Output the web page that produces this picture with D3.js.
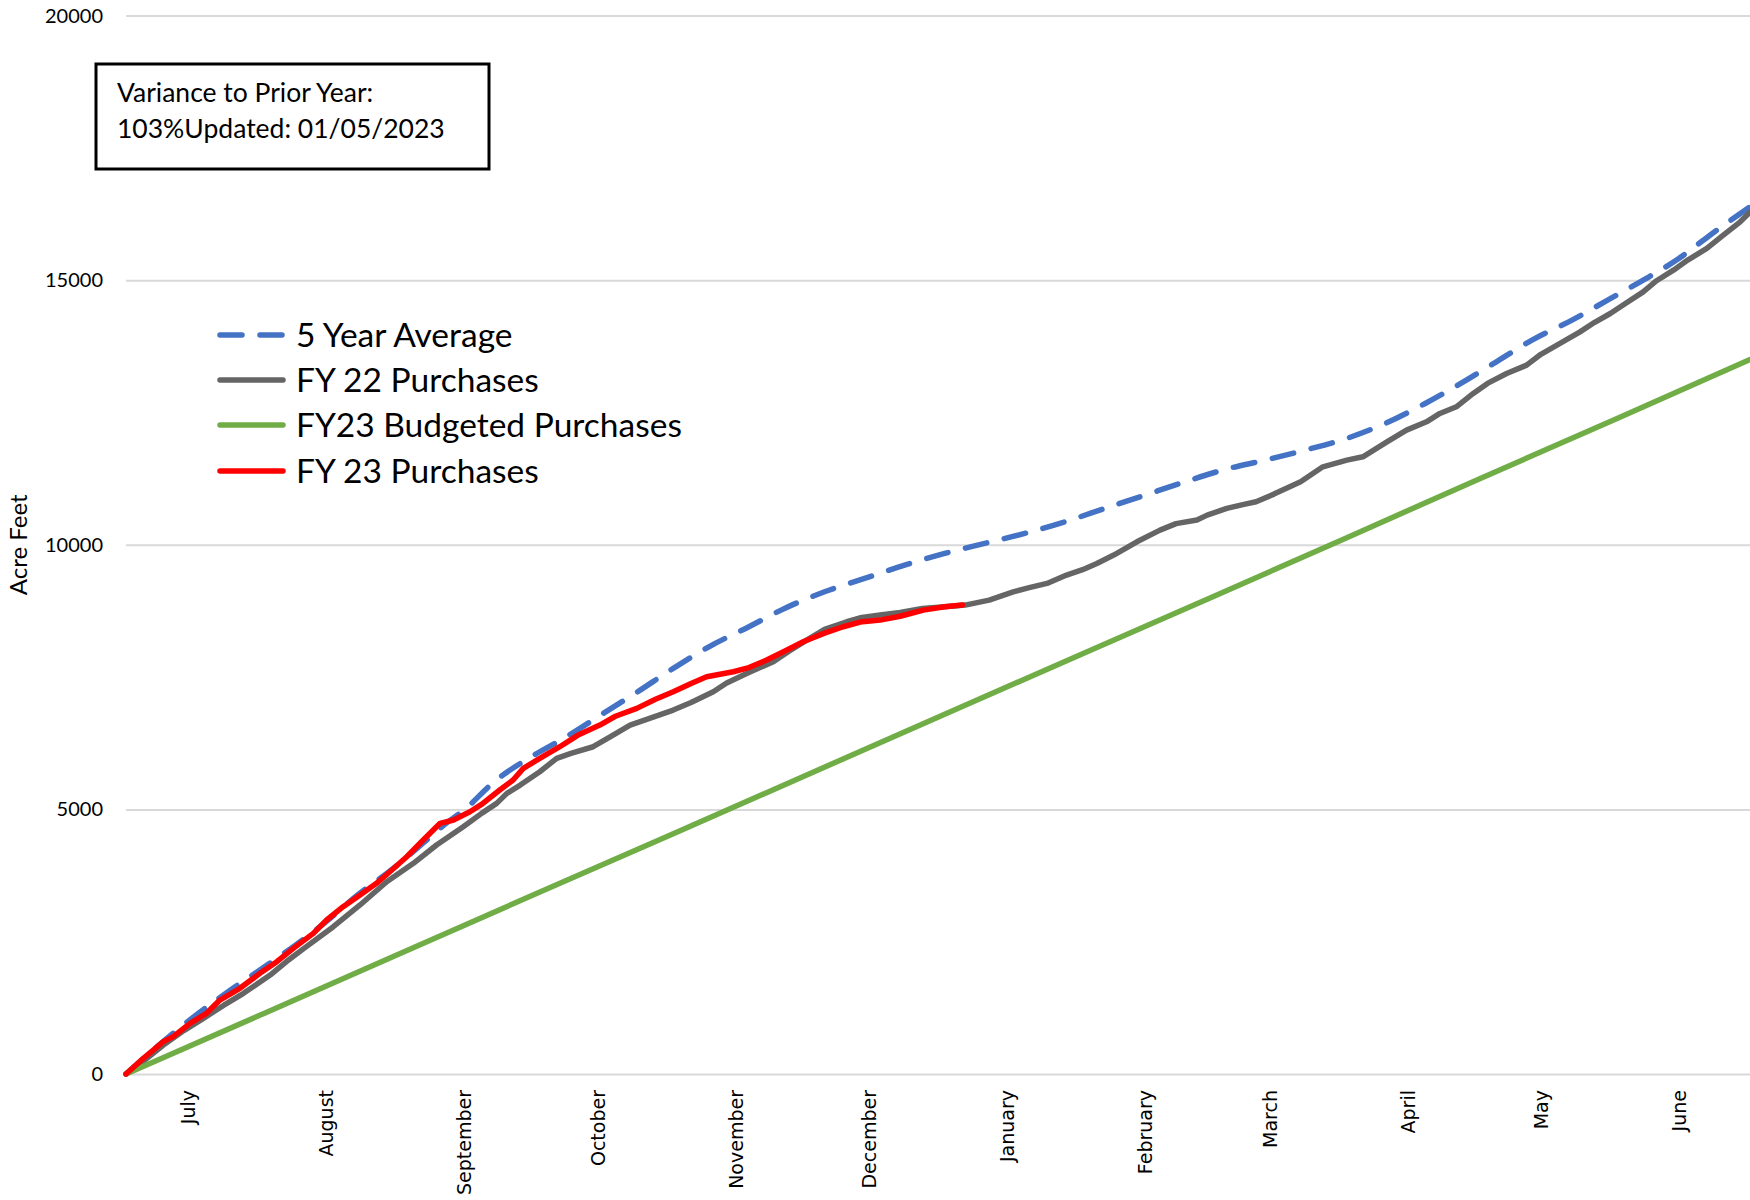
<!DOCTYPE html>
<html>
<head>
<meta charset="utf-8">
<script src="https://cdn.jsdelivr.net/npm/d3@7"></script>
<style>
  html, body { margin: 0; padding: 0; background: #ffffff; }
  svg { display: block; }
</style>
</head>
<body>
<svg id="chart" width="1750" height="1200"></svg>
<script>
// ---------------- DATA ----------------
const monthLabels = ["July","August","September","October","November","December","January","February","March","April","May","June"];
const monthTickDays = [14,45,76,106,137,167,198,229,257,288,318,349];
const yTicks = [0,5000,10000,15000,20000];

const seriesNames = ["5 Year Average","FY 22 Purchases","FY23 Budgeted Purchases","FY 23 Purchases"];

// 5 Year Average (day of fiscal year, cumulative acre feet)
const avgDays   = [0,7,14,22,30,38,45,52,60,67,72,76,83,91,99,107,115,123,131,140,148,157,166,175,184,193,202,211,220,229,238,247,256,265,274,283,292,300,308,316,325,333,341,349,356,365];
const avgValues = [0,520,1000,1500,1960,2430,2880,3380,3880,4380,4740,4990,5540,5990,6373,6800,7223,7665,8073,8451,8798,9112,9365,9617,9837,10026,10215,10435,10687,10939,11190,11424,11600,11789,12000,12293,12671,13049,13458,13867,14245,14623,15001,15411,15851,16386];

// FY 22 Purchases
const fy22Days   = [0,4,8.4,13,17.4,22,26.4,32.4,36,40,46.6,52.6,58.6,64.6,69.8,75.8,80,83.3,85.6,88.6,93,96.8,100,105,109,113.3,118,123,127,132,135,139.5,145.5,149,153,157,162,165,169.5,174,179,184,188.6,194,199.4,203,207,211.4,215,218.2,222,227.2,232.4,236,240.7,243,247.4,251,254,258,264,269,274.4,278,283.4,287.8,292.3,295.3,299,302.8,306,310.3,314.8,318,322.3,326.8,330,333.6,337,341,344,347.8,351,355.3,359,362.8,365];
const fy22Values = [0,250,548,820,1052,1300,1525,1870,2120,2374,2784,3194,3633,3981,4327,4672,4930,5114,5303,5460,5711,5965,6060,6184,6380,6594,6730,6877,7020,7223,7390,7570,7790,7990,8200,8400,8546,8620,8672,8720,8798,8830,8861,8955,9112,9190,9270,9428,9530,9648,9806,10057,10278,10400,10467,10561,10687,10760,10813,10958,11190,11474,11600,11663,11946,12167,12324,12482,12608,12860,13050,13238,13395,13600,13805,14024,14200,14371,14560,14780,14990,15190,15380,15600,15850,16103,16286];

// FY23 Budgeted Purchases (month-end points)
const budgetDays   = [0,31,62,92,123,153,184,215,243,274,304,335,365];
const budgetValues = [0,1145,2290,3400,4540,5650,6800,7940,8970,10120,11240,12380,13500];

// FY 23 Purchases (through 01/05/2023)
const fy23Days   = [0,3.9,8.4,10.6,14.4,18.1,21.1,25.6,30.1,33.9,37.6,42.1,45.1,48.8,52.6,56.3,59.3,63.1,66.8,70.6,73.6,77.3,80,84,87,89.3,93,97.5,101.5,106.5,110,114.8,119,123,127,130.5,136.5,140,144,148,152.2,157,161.2,165,169.5,174,179.2,184,188];
const fy23Values = [0,296,611,706,957,1147,1398,1619,1902,2122,2374,2658,2910,3161,3382,3603,3822,4106,4421,4737,4799,4956,5100,5366,5555,5775,5965,6184,6400,6594,6760,6909,7080,7223,7380,7506,7601,7680,7822,7990,8168,8330,8451,8540,8577,8650,8766,8830,8861];

const annotationLines = ["Variance to Prior Year:", "103%Updated: 01/05/2023"];

// ---------------- CHART ----------------
const svg = d3.select("#chart");
const plotLeft = 126, plotRight = 1750, plotTop = 15.6, plotBottom = 1074;

const x = d3.scaleLinear().domain([0, 365]).range([plotLeft, plotRight]);
const y = d3.scaleLinear().domain([0, 20000]).range([plotBottom, plotTop]);

// Y axis with gridlines
const yAxis = svg.append("g")
  .attr("transform", `translate(${plotLeft},0)`)
  .call(d3.axisLeft(y).tickValues(yTicks).tickFormat(d3.format("d"))
        .tickSize(-(plotRight - plotLeft)).tickPadding(23));
yAxis.select(".domain").remove();
yAxis.selectAll(".tick line").attr("stroke", "#d9d9d9").attr("stroke-width", 2);
yAxis.selectAll(".tick text")
  .attr("font-family", "Lato, 'Open Sans', sans-serif")
  .attr("font-size", 20).attr("fill", "#000");

// X axis (month labels, rotated)
const xAxis = svg.append("g")
  .attr("transform", `translate(0,${plotBottom})`)
  .call(d3.axisBottom(x).tickValues(monthTickDays)
        .tickFormat((d, i) => monthLabels[i]).tickSize(0));
xAxis.select(".domain").remove();
xAxis.selectAll(".tick text")
  .attr("font-family", "'DejaVu Sans', Verdana, sans-serif")
  .attr("font-size", 19).attr("fill", "#000")
  .attr("text-anchor", "end")
  .attr("transform", "rotate(-90)")
  .attr("x", -16).attr("y", 0).attr("dy", "0.35em");

// Y axis title
svg.append("text")
  .attr("transform", `translate(27,${(plotTop + plotBottom) / 2}) rotate(-90)`)
  .attr("text-anchor", "middle")
  .attr("font-family", "Lato, sans-serif").attr("font-size", 24)
  .text("Acre Feet");

const lineGen = d3.line().x(d => x(d[0])).y(d => y(d[1]));
const smoothGen = d3.line().x(d => x(d[0])).y(d => y(d[1])).curve(d3.curveMonotoneX);

const zip = (a, b) => a.map((v, i) => [v, b[i]]);

const series = [
  { name: seriesNames[0], data: zip(avgDays, avgValues), color: "#4472C4", dash: "22,18", gen: smoothGen },
  { name: seriesNames[1], data: zip(fy22Days, fy22Values), color: "#656565", dash: null, gen: lineGen },
  { name: seriesNames[2], data: zip(budgetDays, budgetValues), color: "#70AD47", dash: null, gen: lineGen },
  { name: seriesNames[3], data: zip(fy23Days, fy23Values), color: "#FF0000", dash: null, gen: lineGen }
];

series.forEach(s => {
  svg.append("path")
    .datum(s.data)
    .attr("d", s.gen)
    .attr("fill", "none")
    .attr("stroke", s.color)
    .attr("stroke-width", 5.5)
    .attr("stroke-linecap", "round")
    .attr("stroke-linejoin", "round")
    .attr("stroke-dasharray", s.dash);
});

// Legend
const legend = svg.append("g");
const legendY = [335, 380, 425, 471];
series.forEach((s, i) => {
  legend.append("line")
    .attr("x1", 220).attr("x2", 283)
    .attr("y1", legendY[i]).attr("y2", legendY[i])
    .attr("stroke", s.color).attr("stroke-width", 5.5)
    .attr("stroke-linecap", "round")
    .attr("stroke-dasharray", s.dash);
  legend.append("text")
    .attr("x", 296).attr("y", legendY[i] + 12)
    .attr("font-family", "Lato, sans-serif").attr("font-size", 33.5)
    .attr("fill", "#000")
    .text(s.name);
});

// Annotation box
const box = svg.append("g");
box.append("rect")
  .attr("x", 96).attr("y", 64).attr("width", 393).attr("height", 105)
  .attr("fill", "#fff").attr("stroke", "#000").attr("stroke-width", 3);
annotationLines.forEach((t, i) => {
  box.append("text")
    .attr("x", 117).attr("y", 102 + i * 36)
    .attr("font-family", "Lato, sans-serif").attr("font-size", 26.5)
    .attr("fill", "#000")
    .text(t);
});
</script>
</body>
</html>
